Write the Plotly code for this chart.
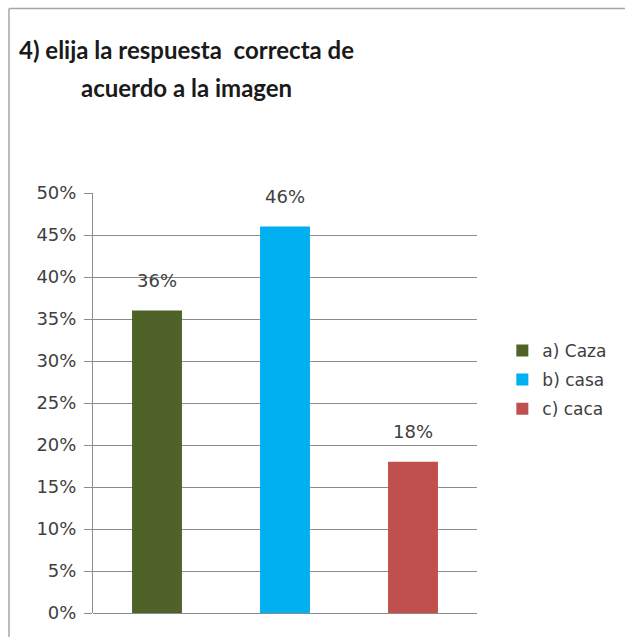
import plotly.graph_objects as go

# Survey answers and their share of responses
categories = ["a) Caza", "b) casa", "c) caca"]
shares = [36, 46, 18]
colors = ["#4F6228", "#00B0F0", "#C0504D"]
tick_vals = [0, 5, 10, 15, 20, 25, 30, 35, 40, 45, 50]
tick_text = [f"{v}%" for v in tick_vals]
title_lines = ["4) elija la respuesta  correcta de", "acuerdo a la imagen"]

text_font = dict(family="DejaVu Sans", size=18, color="#404040")

fig = go.Figure()
for cat, val, col in zip(categories, shares, colors):
    fig.add_trace(go.Bar(
        x=[cat], y=[val], name=cat, marker_color=col,
        marker_line_width=0, width=0.39, legendgroup=cat,
    ))
    fig.add_annotation(
        x=cat, y=val, text=f"{val}%", showarrow=False,
        yshift=30, font=text_font,
    )

# Two-line heading, centred over the first line
for i, line in enumerate(title_lines):
    fig.add_annotation(
        xref="paper", yref="paper",
        x=(186 - 93) / 384, y=(613 - (49 + 38 * i)) / 420,
        xanchor="center", yanchor="middle",
        text=line, showarrow=False,
        font=dict(family="Lato", size=24, color="#1a1a1a", weight="bold"),
    )

grid = "#8C8C8C"
fig.update_layout(
    width=625, height=637,
    margin=dict(l=93, r=148, t=193, b=24),
    paper_bgcolor="white", plot_bgcolor="white",
    barmode="overlay",
    showlegend=True,
    legend=dict(
        x=1.066, y=0.555, xanchor="left", yanchor="middle",
        font=dict(family="DejaVu Sans", size=17, color="#404040"),
        tracegroupgap=4,
    ),
    xaxis=dict(
        showticklabels=False, showgrid=False, zeroline=False,
        showline=False, ticks="",
    ),
    yaxis=dict(
        range=[0, 50], tickvals=tick_vals, ticktext=tick_text,
        showgrid=True, gridcolor=grid, gridwidth=1,
        zeroline=True, zerolinecolor=grid, zerolinewidth=1,
        showline=True, linecolor=grid, linewidth=1,
        ticks="outside", ticklen=8, tickcolor=grid,
        ticklabelstandoff=4,
        tickfont=text_font,
    ),
)

# Outer chart frame: top and left edges (the others run off the page)
frame_left = (9 - 93) / 384
frame_top = (613 - 8.5) / 420
for x0, y0, x1, y1 in [(frame_left, frame_top, 2.0, frame_top),
                       (frame_left, -1.0, frame_left, frame_top)]:
    fig.add_shape(
        type="line", xref="paper", yref="paper",
        x0=x0, y0=y0, x1=x1, y1=y1,
        line=dict(color="#A6A6A6", width=1.5), layer="below",
    )

fig.write_html("out.html")
